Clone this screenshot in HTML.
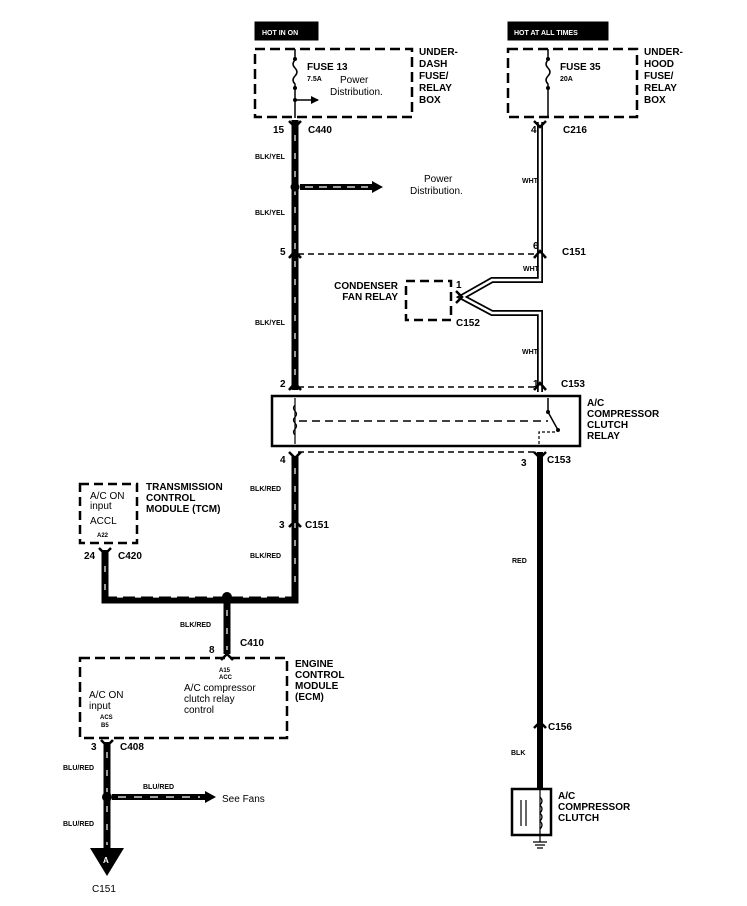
<!DOCTYPE html>
<html><head><meta charset="utf-8"><style>
html,body{margin:0;padding:0;background:#fff;}
svg{display:block;}
text{font-family:"Liberation Sans",sans-serif;font-weight:bold;fill:#000;}
.s{font-size:7px;}
.m{font-size:10px;}
.n{font-size:11px;font-weight:normal;}
</style></head><body>
<svg width="747" height="906" viewBox="0 0 747 906" xmlns="http://www.w3.org/2000/svg">
<defs>
<marker id="ah" markerWidth="8" markerHeight="8" refX="7" refY="4" orient="auto" markerUnits="userSpaceOnUse"><path d="M0,0 L8,4 L0,8z" fill="#000"/></marker>
</defs>
<g fill="none" stroke="#000">
<!-- Header labels -->
<rect x="255" y="22" width="63" height="18" fill="#000"/>
<rect x="508" y="22" width="100" height="18" fill="#000"/>
<!-- dashed boxes -->
<rect x="255" y="49" width="157" height="68" stroke-width="2.5" stroke-dasharray="10,5"/>
<rect x="508" y="49" width="129" height="68" stroke-width="2.5" stroke-dasharray="10,5"/>
<rect x="406" y="281" width="45" height="39" stroke-width="2.5" stroke-dasharray="9,5"/>
<rect x="80" y="484" width="57" height="59" stroke-width="2.5" stroke-dasharray="9,5"/>
<rect x="80" y="658" width="207" height="80" stroke-width="2.5" stroke-dasharray="10,5"/>
<!-- fuses -->
<path d="M295,49 V60 q-4,4 0,8 q4,4 0,8 q-4,4 0,8 V118" stroke-width="1.5"/>
<path d="M295,100 H318" stroke-width="1.5" marker-end="url(#ah)"/>
<path d="M548,49 V60 q-4,4 0,8 q4,4 0,8 q-4,4 0,8 V118" stroke-width="1.5"/>
<!-- left thick wire -->
<path d="M295,120 V390" stroke-width="7"/>
<path d="M295,135 V382" stroke="#fff" stroke-width="1.2" stroke-dasharray="6,12"/>
<path d="M300,187 H372" stroke-width="6"/>
<path d="M305,187 H368" stroke="#fff" stroke-width="1.2" stroke-dasharray="8,6"/>
<!-- right WHT wire -->
<path d="M540,122 V280 H492 L462,297 L492,313 H540 V392" stroke-width="6" stroke-linejoin="miter"/>
<path d="M540,122 V280 H492 L462,297 L492,313 H540 V392" stroke="#fff" stroke-width="2.5" stroke-linejoin="miter"/>
<!-- dashed horizontals -->
<path d="M298,254 H537" stroke-width="1.5" stroke-dasharray="6,4"/>
<path d="M298,387 H537" stroke-width="1.5" stroke-dasharray="6,4"/>
<path d="M298,452 H537" stroke-width="1.5" stroke-dasharray="6,4"/>
<!-- relay -->
<rect x="272" y="396" width="308" height="50" stroke-width="2.5"/>
<path d="M295,398 V444" stroke-width="1.2"/>
<path d="M295,405 q-3,3 0,6 q3,3 0,6 q-3,3 0,6 q3,3 0,6 q-3,3 0,6" stroke-width="1.2"/>
<path d="M299,421 H548" stroke-width="1.5" stroke-dasharray="8,5"/>
<path d="M548,398 V412 L558,430" stroke-width="1.5"/>
<path d="M539,444 V432 H556" stroke-width="1.2" stroke-dasharray="3,2"/>
<!-- lower left wire -->
<path d="M295,456 V600 H105 V550" stroke-width="7"/>
<path d="M295,468 V590 M285,597 H115 M105,590 V560" stroke="#fff" stroke-width="1.2" stroke-dasharray="6,12"/>
<path d="M227,597 V654" stroke-width="7"/>
<path d="M227,610 V650" stroke="#fff" stroke-width="1.2" stroke-dasharray="6,12"/>
<!-- ECM down -->
<path d="M107,742 V850" stroke-width="7"/>
<path d="M107,752 V845" stroke="#fff" stroke-width="1.2" stroke-dasharray="6,12"/>
<path d="M112,797 H205" stroke-width="6"/>
<path d="M118,797 H200" stroke="#fff" stroke-width="1.2" stroke-dasharray="8,8"/>
<!-- right lower wire -->
<path d="M540,452 V790" stroke-width="6"/>
<rect x="512" y="789" width="39" height="46" stroke-width="2.5"/>
<path d="M521,800 V826 M526,800 V826" stroke-width="1.2"/>
<path d="M540,790 V836" stroke-width="1.2"/>
<path d="M540,797 q4,4 0,8 q4,4 0,8 q4,4 0,8 q4,4 0,8" stroke-width="1.2"/>
<path d="M540,836 V842 M533,842 H547 M535,845 H545 M537,848 H543" stroke-width="1.2"/>
<!-- connectors (chevrons) -->
<g stroke-width="2.5">
<path d="M289,121 L295,127 L301,121"/>
<path d="M534,121 L540,127 L546,121"/>
<path d="M289,258 L295,251 L301,258"/>
<path d="M534,258 L540,251 L546,258"/>
<path d="M289,390 L295,383 L301,390"/>
<path d="M534,390 L540,383 L546,390"/>
<path d="M289,452 L295,458 L301,452"/>
<path d="M534,452 L540,458 L546,452"/>
<path d="M289,527 L295,521 L301,527"/>
<path d="M99,548 L105,554 L111,548"/>
<path d="M221,660 L227,654 L233,660"/>
<path d="M101,740 L107,746 L113,740"/>
<path d="M534,728 L540,722 L546,728"/>
<path d="M456,291 L462,297 L456,303"/>
</g>
</g>
<g fill="#000">
<polygon points="372,181 383,187 372,193"/>
<polygon points="205,791 216,797 205,803"/>
<circle cx="295" cy="187" r="4.5"/>
<circle cx="227" cy="597" r="5"/>
<circle cx="107" cy="797" r="5"/>
<circle cx="295" cy="59" r="2"/><circle cx="295" cy="88" r="2"/><circle cx="295" cy="100" r="2"/>
<circle cx="548" cy="59" r="2"/><circle cx="548" cy="88" r="2"/>
<circle cx="548" cy="412" r="2"/><circle cx="558" cy="430" r="2"/>
<polygon points="90,848 124,848 107,876"/>
</g>
<!-- text -->
<text x="262" y="35" class="s" fill="#fff" style="fill:#fff">HOT IN ON</text>
<text x="514" y="35" class="s" style="fill:#fff">HOT AT ALL TIMES</text>
<text x="307" y="70" class="m">FUSE 13</text>
<text x="307" y="81" class="s">7.5A</text>
<text x="340" y="83" class="n" style="font-size:10px">Power</text>
<text x="330" y="95" class="n" style="font-size:10px">Distribution.</text>
<text x="419" y="55" class="m">UNDER-</text>
<text x="419" y="67" class="m">DASH</text>
<text x="419" y="79" class="m">FUSE/</text>
<text x="419" y="91" class="m">RELAY</text>
<text x="419" y="103" class="m">BOX</text>
<text x="560" y="70" class="m">FUSE 35</text>
<text x="560" y="81" class="s">20A</text>
<text x="644" y="55" class="m">UNDER-</text>
<text x="644" y="67" class="m">HOOD</text>
<text x="644" y="79" class="m">FUSE/</text>
<text x="644" y="91" class="m">RELAY</text>
<text x="644" y="103" class="m">BOX</text>
<text x="273" y="133" class="m">15</text>
<text x="308" y="133" class="m">C440</text>
<text x="531" y="133" class="m">4</text>
<text x="563" y="133" class="m">C216</text>
<text x="255" y="159" class="s">BLK/YEL</text>
<text x="424" y="182" class="n" style="font-size:10px">Power</text>
<text x="410" y="194" class="n" style="font-size:10px">Distribution.</text>
<text x="522" y="183" class="s">WHT</text>
<text x="255" y="215" class="s">BLK/YEL</text>
<text x="280" y="255" class="m">5</text>
<text x="533" y="249" class="m">6</text>
<text x="562" y="255" class="m">C151</text>
<text x="523" y="271" class="s">WHT</text>
<text x="398" y="289" class="m" text-anchor="end">CONDENSER</text>
<text x="398" y="300" class="m" text-anchor="end">FAN RELAY</text>
<text x="456" y="288" class="m">1</text>
<text x="456" y="326" class="m">C152</text>
<text x="255" y="325" class="s">BLK/YEL</text>
<text x="522" y="354" class="s">WHT</text>
<text x="280" y="387" class="m">2</text>
<text x="533" y="387" class="m">1</text>
<text x="561" y="387" class="m">C153</text>
<text x="587" y="406" class="m">A/C</text>
<text x="587" y="417" class="m">COMPRESSOR</text>
<text x="587" y="428" class="m">CLUTCH</text>
<text x="587" y="439" class="m">RELAY</text>
<text x="280" y="463" class="m">4</text>
<text x="521" y="466" class="m">3</text>
<text x="547" y="463" class="m">C153</text>
<text x="250" y="491" class="s">BLK/RED</text>
<text x="146" y="490" class="m">TRANSMISSION</text>
<text x="146" y="501" class="m">CONTROL</text>
<text x="146" y="512" class="m">MODULE (TCM)</text>
<text x="90" y="499" class="n" style="font-size:10px">A/C ON</text>
<text x="90" y="509" class="n" style="font-size:10px">input</text>
<text x="90" y="524" class="n" style="font-size:10px">ACCL</text>
<text x="97" y="537" class="s" style="font-size:6px">A22</text>
<text x="279" y="528" class="m">3</text>
<text x="305" y="528" class="m">C151</text>
<text x="250" y="558" class="s">BLK/RED</text>
<text x="84" y="559" class="m">24</text>
<text x="118" y="559" class="m">C420</text>
<text x="512" y="563" class="s">RED</text>
<text x="180" y="627" class="s">BLK/RED</text>
<text x="240" y="646" class="m">C410</text>
<text x="209" y="653" class="m">8</text>
<text x="295" y="667" class="m">ENGINE</text>
<text x="295" y="678" class="m">CONTROL</text>
<text x="295" y="689" class="m">MODULE</text>
<text x="295" y="700" class="m">(ECM)</text>
<text x="219" y="672" class="s" style="font-size:6px">A15</text>
<text x="219" y="679" class="s" style="font-size:6px">ACC</text>
<text x="184" y="691" class="n" style="font-size:10px">A/C compressor</text>
<text x="184" y="702" class="n" style="font-size:10px">clutch relay</text>
<text x="184" y="713" class="n" style="font-size:10px">control</text>
<text x="89" y="698" class="n" style="font-size:10px">A/C ON</text>
<text x="89" y="709" class="n" style="font-size:10px">input</text>
<text x="100" y="719" class="s" style="font-size:6px">ACS</text>
<text x="101" y="727" class="s" style="font-size:6px">B5</text>
<text x="91" y="750" class="m">3</text>
<text x="120" y="750" class="m">C408</text>
<text x="548" y="730" class="m">C156</text>
<text x="511" y="755" class="s">BLK</text>
<text x="63" y="770" class="s">BLU/RED</text>
<text x="143" y="789" class="s">BLU/RED</text>
<text x="222" y="802" class="n" style="font-size:10px">See Fans</text>
<text x="558" y="799" class="m">A/C</text>
<text x="558" y="810" class="m">COMPRESSOR</text>
<text x="558" y="821" class="m">CLUTCH</text>
<text x="63" y="826" class="s">BLU/RED</text>
<text x="103" y="863" class="s" style="fill:#fff;font-size:8px">A</text>
<text x="92" y="892" class="m" style="font-weight:normal">C151</text>
</svg>
</body></html>
